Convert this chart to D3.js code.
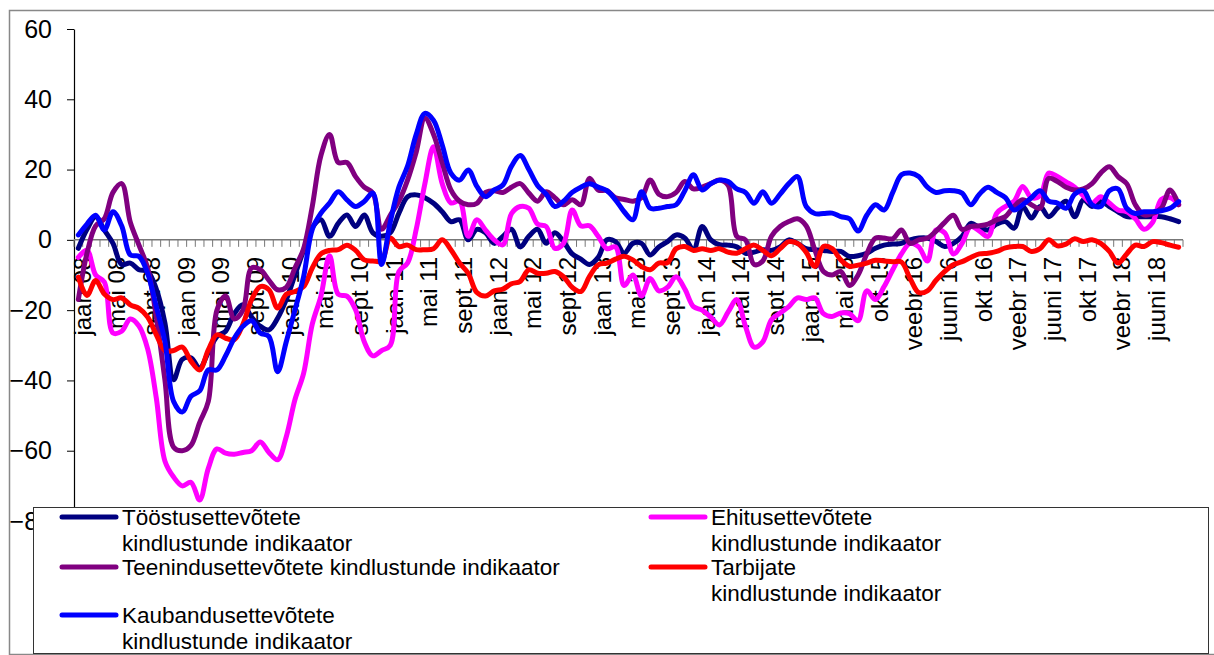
<!DOCTYPE html>
<html>
<head>
<meta charset="utf-8">
<script src="https://cdn.jsdelivr.net/npm/d3@7"></script>
<style>
  body { margin: 0; background: #fff; }
  svg { display: block; font-family: "Liberation Sans", Arial, sans-serif; }
</style>
</head>
<body>
<svg id="chart" width="1214" height="655"></svg>
<script>
// tick labels, one for every 4th month
const tickLabels = ["jaan 08","mai 08","sept 08","jaan 09","mai 09","sept 09","jaan 10","mai 10","sept 10",
  "jaan 11","mai 11","sept 11","jaan 12","mai 12","sept 12","jaan 13","mai 13","sept 13","jaan 14","mai 14",
  "sept 14","jaan. 15","mai 15","okt 15","veebr 16","juuni 16","okt 16","veebr 17","juuni 17","okt 17",
  "veebr 18","juuni 18"];

const toostus = [-2.4,3,6.6,2.8,-1,-7,-6.6,-8.5,-9,-14,
  -23.7,-39.8,-34,-33.6,-36.5,-32,-27.5,-26,-21,-18.5,
  -22,-24.6,-25.6,-22.3,-17,-10,-3,3.5,5.7,1,
  4.7,7.1,3.8,7.1,2,1,2,7.6,12.3,12.8,
  12,10.4,8,5.2,5.7,0,3,2,-1,1,
  3,-2,1,3,-1,2,-0.5,-4,-5.5,-7,
  -5,0,-0.5,-3.8,-1,-1,-4.3,-2,-0.5,1.4,
  0.5,-2.8,3.8,0,-1.4,-1.5,-2,-3.8,-3.5,-2.8,
  -3,-2,0,-1,-2.5,-2.8,-3,-3.3,-3.3,-4.7,
  -4.5,-3.8,-2.4,-1.5,-1.2,-1,0,0.5,0.5,-0.5,
  -1.9,-1,1,4.7,3.5,2.8,4.5,5.2,3.3,9.5,
  6.2,9.5,6.6,9,11,6.6,11.4,9.5,10.9,9.5,
  8,6.6,6.6,6.6,6.6,6.6,6,5.2];

const ehitus = [-5,-3,-10,-12,-26.5,-26,-22.5,-24.5,-31,-45,
  -63,-67.5,-70,-69,-74,-65,-59.5,-60.7,-61,-60.5,
  -60,-57.5,-60.5,-62.6,-56,-45.5,-38,-24,-16,-4.5,
  -15.5,-16,-19.9,-29,-33,-31.5,-30,-9,-6.6,3,
  16,26.5,16,10.5,11,1,5.7,2.8,0,-1.4,
  7.5,9.5,9,4.5,3.8,-2.4,-1,8.5,4,4,
  1,-2.5,-2,-13,-10,-16,-11,-14.5,-13.5,-10.5,
  -14,-19,-20,-22,-24.2,-20.5,-17,-24.6,-30.5,-29,
  -22.7,-20.8,-19,-16.5,-17,-16.5,-21,-21.8,-20.8,-21,
  -23,-14.5,-17,-13.3,-8.5,-4,-1,-2,-6,2.8,
  2,-4,-1,3.8,2.5,1,7.6,9.5,11,15.2,
  12,12.5,19,18,16.5,15,12.5,10.4,12.3,10.5,
  8.5,8,6,3,5,11.5,12,10];

const teenindus = [-17,-3.8,4,6,13.5,16,5,-1.5,-8,-22,
  -40,-59,-60,-58.5,-52,-46,-20,-16,-22.5,-20,
  -8,-8.5,-11.5,-14.2,-13.5,-8,-2.5,9.5,24,30,
  22,22,18,15,13.3,3,7,11,17,25,
  34.6,30,22,14.2,11,10,10.4,13.5,14,13.5,
  15,16,13.3,11,13.7,12,10,11.4,10,17.5,
  14.2,14,12,11.5,11,12,17,13,12.3,13.5,
  16.6,14.5,15,16,17,15.5,1,0,-7,-6,
  1,3.8,5.2,6,4,-2.8,-9,-10,-9,-13,
  -10,-4,0.5,0.5,0.3,2.8,-1,0,0.5,2.5,
  5,7,3,3.8,4,4.5,5.7,6.6,9.5,11.4,
  10,9,17.5,16.6,15,14.2,14.5,16,19,20.8,
  18,16,10,7.1,7.5,9,14.2,10];

const tarbijad = [-10.6,-15.8,-11.6,-15.4,-17,-16.5,-18.5,-19.5,-22,-27,
  -31.5,-31.5,-30.5,-34.5,-37,-31.3,-27,-28,-28.4,-24,
  -17,-13.3,-14.2,-19.4,-15.5,-14.7,-13.3,-8,-4,-3,
  -2.8,-1.5,-3,-5.7,-6,-6,0.5,-1.9,-1.5,-2.8,
  -2.8,-2.5,0,-2.8,-6.6,-9.5,-15,-16,-14.5,-14,
  -12.5,-11.8,-8.5,-9.5,-9.5,-9,-10.5,-13.5,-14.7,-10.4,
  -7.1,-6.6,-5.5,-4.7,-5.7,-7.6,-8.5,-6.6,-6.5,-2.5,
  -1.9,-3,-2.5,-3,-2.5,-3.5,-3.8,-2.5,-1.5,-3,
  -4.5,-2.5,-0.5,-1,-3.5,-7.6,-1.9,-2.5,-5.7,-7.5,
  -7.2,-6.6,-5.8,-6,-6.2,-6.3,-11,-15,-14.5,-11.5,
  -9,-7.1,-6.2,-5,-4,-3.8,-3.3,-2.3,-1.9,-1.9,
  -3.3,-2.5,0,-1.7,-1.2,0.3,-0.5,0,-1,-3.3,
  -6.6,-4,-1.5,-1.9,-0.5,-0.8,-1.5,-2.1];

const kaubandus = [1.4,4.5,7,2.8,8,4,-4.3,-4.7,-9.5,-19,
  -29,-46,-49,-44.5,-43,-37,-37,-33,-28,-24.6,
  -23,-26.5,-27.5,-37.5,-29,-20,-10.5,3,7.6,10.5,
  13.7,11.4,9.5,10.9,13.3,-7,5,15,21,30,
  36,34,27,19,17,19.9,15.2,12.3,14.2,15.6,
  21,24,20,15.5,13,9.5,11,13.5,15,16,
  15,14,11.4,8,5.7,13.7,9,9,9.5,10,
  14,18.5,14.2,16,17,16.6,14.5,13.5,10.4,13.7,
  10.4,13,16,18,9.5,7.5,7.5,7.6,6.6,6,
  2.5,7,10,8.5,13.5,18.5,19,18,15,13.5,
  14,14,13.3,10,13,15,13.5,12,8.5,10,
  12,14,11,10.5,9,13,14,10,9.5,14,
  14.5,9,7.5,8,8,8.3,9,10.9];

// draw order as in the original workbook (later on top)
const series = [
  { lines: ["Tööstusettevõtete", "kindlustunde indikaator"], values: toostus, color: "#000080" },
  { lines: ["Ehitusettevõtete", "kindlustunde indikaator"], values: ehitus, color: "#ff00ff" },
  { lines: ["Teenindusettevõtete kindlustunde indikaator"], values: teenindus, color: "#800080" },
  { lines: ["Tarbijate", "kindlustunde indikaator"], values: tarbijad, color: "#ff0000" },
  { lines: ["Kaubandusettevõtete", "kindlustunde indikaator"], values: kaubandus, color: "#0000ff" }
];

const svg = d3.select("#chart");

// outer chart frame
svg.append("rect")
  .attr("x", 9.5).attr("y", 10.5)
  .attr("width", 1214).attr("height", 644)
  .attr("fill", "none").attr("stroke", "#888").attr("stroke-width", 1.5);

const x = d3.scaleBand().domain(d3.range(toostus.length)).range([74, 1183]);
const y = d3.scaleLinear().domain([-80, 60]).range([521, 29]);
const cx = i => x(i) + x.bandwidth() / 2;

// y axis
const yAxis = svg.append("g")
  .attr("transform", "translate(74,0)")
  .call(d3.axisLeft(y).tickValues(d3.range(-80, 61, 20)).tickSize(7).tickSizeOuter(0).tickPadding(15));
yAxis.select(".domain").attr("stroke", "#000").attr("stroke-width", 1.2);
yAxis.selectAll(".tick line").attr("stroke", "#000");
yAxis.selectAll(".tick text")
  .attr("font-size", 25).attr("fill", "#000")
  .attr("font-family", "Liberation Sans, Arial, sans-serif");

// x axis at zero
const y0 = y(0);
const xAxis = svg.append("g");
xAxis.append("line")
  .attr("x1", x.range()[0]).attr("x2", x.range()[1])
  .attr("y1", y0).attr("y2", y0)
  .attr("stroke", "#777").attr("stroke-width", 1.5);
xAxis.selectAll("line.tk")
  .data(d3.range(toostus.length + 1))
  .join("line")
  .attr("class", "tk")
  .attr("x1", i => x.range()[0] + i * x.step())
  .attr("x2", i => x.range()[0] + i * x.step())
  .attr("y1", y0).attr("y2", y0 + 7)
  .attr("stroke", "#777").attr("stroke-width", 1);
xAxis.selectAll("text")
  .data(tickLabels)
  .join("text")
  .attr("transform", (d, k) => `translate(${cx(k * 4) + 4},${y0 + 17}) rotate(-90)`)
  .attr("text-anchor", "end")
  .attr("dy", "0.35em")
  .attr("font-size", 24)
  .attr("fill", "#000")
  .text(d => d);

// lines
const line = d3.line()
  .x((d, i) => cx(i))
  .y(d => y(d))
  .curve(d3.curveCatmullRom.alpha(0.5));

svg.append("g").selectAll("path")
  .data(series)
  .join("path")
  .attr("d", d => line(d.values))
  .attr("fill", "none")
  .attr("stroke", d => d.color)
  .attr("stroke-width", 5)
  .attr("stroke-linejoin", "round")
  .attr("stroke-linecap", "round");

// legend
const legend = svg.append("g");
legend.append("rect")
  .attr("x", 33.5).attr("y", 507.5)
  .attr("width", 1175).attr("height", 146)
  .attr("fill", "#fff").attr("stroke", "#333").attr("stroke-width", 1);

const colX = [62, 651];
const rowY = [517, 567, 615];
series.forEach((s, k) => {
  const lx = colX[k % 2], ly = rowY[Math.floor(k / 2)];
  legend.append("line")
    .attr("x1", lx).attr("x2", lx + 54)
    .attr("y1", ly).attr("y2", ly)
    .attr("stroke", s.color).attr("stroke-width", 5).attr("stroke-linecap", "round");
  s.lines.forEach((t, j) => {
    legend.append("text")
      .attr("x", lx + 60).attr("y", ly + j * 26)
      .attr("dy", "0.35em")
      .attr("font-size", 22.5)
      .attr("fill", "#000")
      .text(t);
  });
});
</script>
</body>
</html>
